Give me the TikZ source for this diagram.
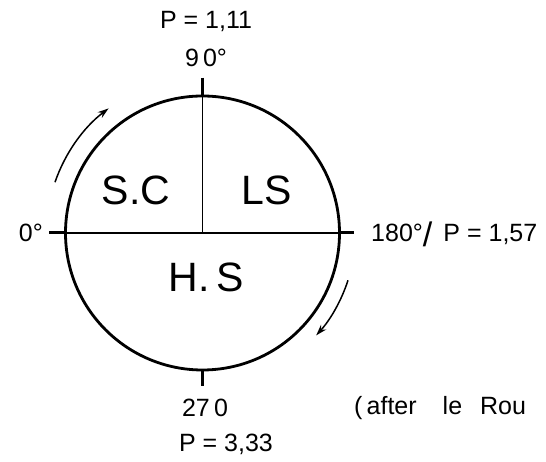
\documentclass[tikz,border=0pt]{standalone}
\usepackage{fontspec}
\setmainfont{Liberation Sans}
\usetikzlibrary{arrows.meta, positioning, calc}

\begin{document}
\begin{tikzpicture}[x=1pt, y=1pt,
  ring/.style={circle, draw, line width=2.8pt, minimum size=274pt, inner sep=0pt},
  axis/.style={line width=1.6pt},
  tick/.style={line width=3pt},
  turn/.style={-{Stealth[length=11pt, width=7pt]}, line width=1.5pt},
  lbl/.style={font=\fontsize{25}{28}\selectfont, inner sep=0pt},
  zone/.style={font=\fontsize{41}{45}\selectfont, inner sep=0pt},
]
\useasboundingbox (0,0) rectangle (546,462);
\node[ring] (ring) at (202.5,229) {};
% axes and the four ticks
\coordinate (top) at ($(ring.north)+(0,17)$);
\coordinate (left) at ($(ring.west)+(-15,0)$);
\coordinate (right) at ($(ring.east)+(13,0)$);
\coordinate (bot) at ($(ring.south)+(0,-15)$);
\draw[axis] (ring.west) -- (ring.east);
\draw[axis] (ring.north) -- (ring.center);
\draw[tick] (left) -- (ring.west);
\draw[tick] (ring.east) -- (right);
\draw[tick] (top) -- (ring.north);
\draw[tick] (ring.south) -- (bot);
% sense of rotation
\coordinate (cw1) at ($(ring.center)+(161:156)$);
\coordinate (cw2) at ($(ring.center)+(-18:153)$);
\draw[turn] (cw1) arc[start angle=161, end angle=127, radius=156];
\draw[turn] (cw2) arc[start angle=-18, end angle=-42, radius=153];
% sectors
\node[zone, anchor=base] (sc) at (136,257) {S.C};
\node[zone, anchor=base] (ls) at (267,257) {LS};
\node[zone, anchor=base] (hs) at (206,170) {H.\,S};
% angles and P values
\node[lbl, anchor=base] (ninety) at (206,395) {9\,0°};
\node[lbl, above=17pt of ninety] (p111) {P = 1,11};
\node[lbl, anchor=base east] (zero) at (43,220) {0°};
\node[lbl, anchor=base west] (oneeighty) at (371,220)
  {180°\raisebox{-5pt}{\fontsize{34}{34}\selectfont/}\, P = 1,57};
\node[lbl, anchor=base] (twoseventy) at (205,45) {27\,0};
\node[lbl, anchor=base] (p333) at (226,10) {P = 3,33};
\node[lbl, anchor=base west] (after) at (354,47) {(\,after\hspace{26pt}le\hspace{18pt}Rou};
\end{tikzpicture}
\end{document}
